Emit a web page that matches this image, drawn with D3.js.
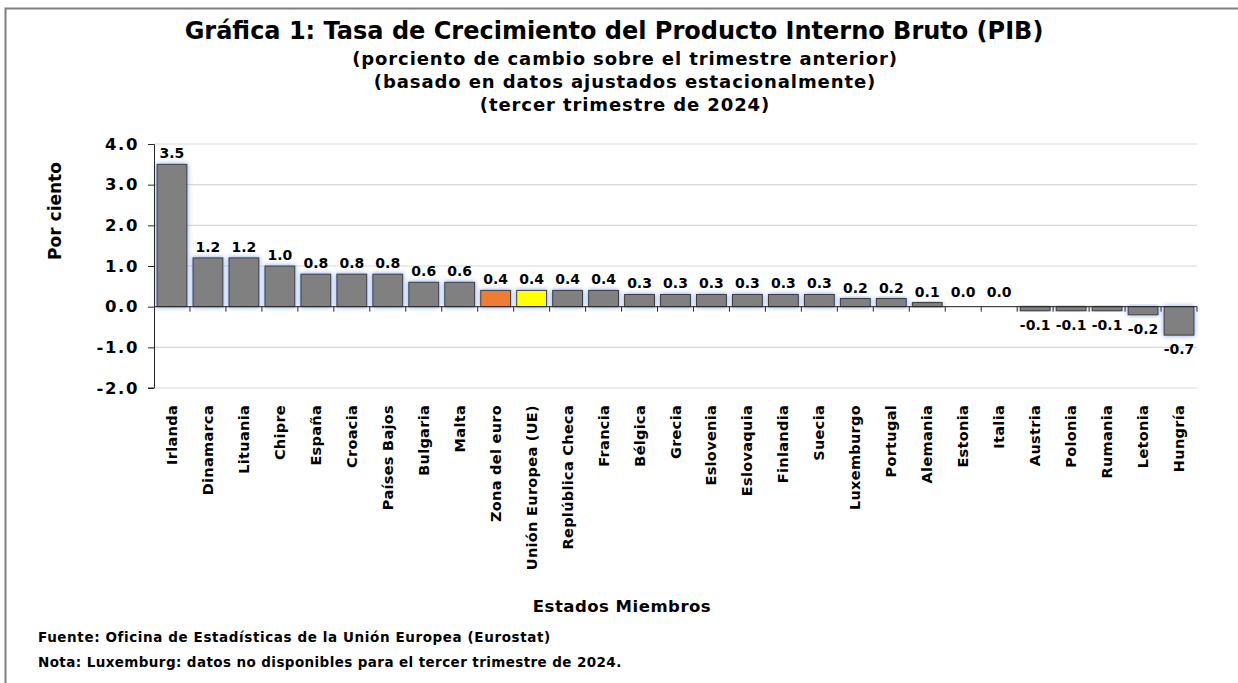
<!DOCTYPE html>
<html>
<head>
<meta charset="utf-8">
<script src="https://cdn.jsdelivr.net/npm/d3@7"></script>
<style>
  body { margin: 0; background: #fff; }
  svg { display: block; font-family: "DejaVu Sans", sans-serif; font-weight: 700; }
</style>
</head>
<body>
<div id="wrapper"></div>
<script>
const countries = ["Irlanda", "Dinamarca", "Lituania", "Chipre", "España", "Croacia", "Países Bajos",
  "Bulgaria", "Malta", "Zona del euro", "Unión Europea (UE)", "Replública Checa", "Francia", "Bélgica",
  "Grecia", "Eslovenia", "Eslovaquia", "Finlandia", "Suecia", "Luxemburgo", "Portugal", "Alemania",
  "Estonia", "Italia", "Austria", "Polonia", "Rumania", "Letonia", "Hungría"]
const growth = [3.5, 1.2, 1.2, 1.0, 0.8, 0.8, 0.8, 0.6, 0.6, 0.4, 0.4, 0.4, 0.4, 0.3, 0.3, 0.3, 0.3,
  0.3, 0.3, 0.2, 0.2, 0.1, 0.0, 0.0, -0.1, -0.1, -0.1, -0.2, -0.7]
const yTicks = [-2, -1, 0, 1, 2, 3, 4]
const titleLines = [
  "(porciento de cambio sobre el trimestre anterior)",
  "(basado en datos ajustados estacionalmente)",
  "(tercer trimestre de 2024)"
]

const data = countries.map((c, i) => ({ country: c, value: growth[i] }))

const dimensions = {
  width: 1238,
  height: 683,
  margin: { top: 144, right: 41, bottom: 295, left: 154 },
}
dimensions.boundedWidth = dimensions.width - dimensions.margin.left - dimensions.margin.right
dimensions.boundedHeight = dimensions.height - dimensions.margin.top - dimensions.margin.bottom

// hyphen for negatives, like the original
const fmt = d3.formatLocale({ decimal: ".", thousands: ",", grouping: [3], currency: ["", ""], minus: "-" })
  .format(".1f")

const svg = d3.select("#wrapper")
  .append("svg")
    .attr("width", dimensions.width)
    .attr("height", dimensions.height)

// glow behind the bars
const defs = svg.append("defs")
const glow = defs.append("filter")
  .attr("id", "glow")
  .attr("x", "-30%").attr("y", "-30%")
  .attr("width", "160%").attr("height", "160%")
glow.append("feDropShadow")
  .attr("dx", 0).attr("dy", 0)
  .attr("stdDeviation", 2.6)
  .attr("flood-color", "#6f9cf0")
  .attr("flood-opacity", 0.9)

// frame (top and left only visible)
svg.append("path")
  .attr("d", "M5.5,683 V8.5 H1238")
  .attr("fill", "none")
  .attr("stroke", "#7f7f7f")
  .attr("stroke-width", 2)

// titles
svg.append("text")
  .attr("x", 614).attr("y", 39)
  .attr("text-anchor", "middle")
  .style("font-size", "24px")
  .text("Gráfica 1: Tasa de Crecimiento del Producto Interno Bruto (PIB)")

svg.selectAll(".subtitle")
  .data(titleLines)
  .join("text")
    .attr("class", "subtitle")
    .attr("x", 625)
    .attr("y", (d, i) => 65 + i * 23)
    .attr("text-anchor", "middle")
    .style("font-size", "18px")
    .style("letter-spacing", "0.9px")
    .text(d => d)

const bounds = svg.append("g")
  .attr("transform", `translate(${dimensions.margin.left},${dimensions.margin.top})`)

const xScale = d3.scaleBand()
  .domain(countries)
  .range([0, dimensions.boundedWidth])
  .paddingInner(0.17)
  .paddingOuter(0.085)

const yScale = d3.scaleLinear()
  .domain([-2, 4])
  .range([dimensions.boundedHeight, 0])

// gridlines
bounds.selectAll(".grid")
  .data(yTicks)
  .join("line")
    .attr("class", "grid")
    .attr("x1", 0)
    .attr("x2", dimensions.boundedWidth)
    .attr("y1", d => yScale(d))
    .attr("y2", d => yScale(d))
    .attr("stroke", "#d9d9d9")
    .attr("stroke-width", 1.2)

// bars
const colorFor = d => d.country === "Zona del euro" ? "#ed7d31"
  : d.country === "Unión Europea (UE)" ? "#ffff00" : "#808080"

bounds.selectAll(".bar")
  .data(data.filter(d => d.value !== 0))
  .join("rect")
    .attr("class", "bar")
    .attr("x", d => xScale(d.country))
    .attr("width", xScale.bandwidth())
    .attr("y", d => yScale(Math.max(0, d.value)))
    .attr("height", d => Math.abs(yScale(d.value) - yScale(0)))
    .attr("fill", colorFor)
    .attr("stroke", "#3a3a3a")
    .attr("stroke-width", 1)
    .attr("filter", "url(#glow)")

// y axis
const yAxisGenerator = d3.axisLeft(yScale)
  .tickValues(yTicks)
  .tickFormat(fmt)
  .tickSize(6)
  .tickPadding(9)

const yAxis = bounds.append("g").call(yAxisGenerator)
yAxis.select(".domain").attr("stroke", "#262626").attr("d", `M-6,0.5H0.5V${dimensions.boundedHeight}H-6`)
yAxis.selectAll(".tick line").attr("stroke", "#262626")
yAxis.selectAll(".tick text")
  .attr("fill", "#000")
  .style("font-size", "16.5px")
  .style("letter-spacing", "1.6px")
  .style("font-family", "\"DejaVu Sans\", sans-serif")
  .style("font-weight", 700)

// zero line with category boundary ticks
const zeroY = yScale(0)
bounds.append("line")
  .attr("x1", 0).attr("x2", dimensions.boundedWidth)
  .attr("y1", zeroY).attr("y2", zeroY)
  .attr("stroke", "#262626")
  .attr("stroke-width", 1)

const step = xScale.step()
const boundaries = d3.range(1, countries.length + 1)
bounds.selectAll(".cat-tick")
  .data(boundaries)
  .join("line")
    .attr("class", "cat-tick")
    .attr("x1", i => xScale(countries[i - 1]) + xScale.bandwidth() + (step - xScale.bandwidth()) / 2)
    .attr("x2", i => xScale(countries[i - 1]) + xScale.bandwidth() + (step - xScale.bandwidth()) / 2)
    .attr("y1", zeroY)
    .attr("y2", zeroY + 5)
    .attr("stroke", "#262626")

// value labels
bounds.selectAll(".value")
  .data(data)
  .join("text")
    .attr("class", "value")
    .attr("x", d => xScale(d.country) + xScale.bandwidth() / 2)
    .attr("y", d => d.value < 0 ? yScale(d.value) + 19 : yScale(d.value) - (d.value === 0 ? 10 : 6))
    .attr("text-anchor", "middle")
    .style("font-size", "14px")
    .text(d => fmt(d.value))

// category labels, rotated
bounds.selectAll(".cat-label")
  .data(countries)
  .join("text")
    .attr("class", "cat-label")
    .attr("transform", d => `translate(${xScale(d) + xScale.bandwidth() / 2 + 5},${dimensions.boundedHeight + 17}) rotate(-90)`)
    .attr("text-anchor", "end")
    .style("font-size", "14.5px")
    .style("letter-spacing", "0.3px")
    .text(d => d)

// axis titles
svg.append("text")
  .attr("transform", "translate(61,211) rotate(-90)")
  .attr("text-anchor", "middle")
  .style("font-size", "17px")
  .text("Por ciento")

svg.append("text")
  .attr("x", 622).attr("y", 612)
  .attr("text-anchor", "middle")
  .style("font-size", "16.5px")
  .style("letter-spacing", "0.5px")
  .text("Estados Miembros")

// notes
svg.append("text")
  .attr("x", 38).attr("y", 642)
  .style("font-size", "13.5px")
  .style("letter-spacing", "0.6px")
  .text("Fuente: Oficina de Estadísticas de la Unión Europea (Eurostat)")

svg.append("text")
  .attr("x", 38).attr("y", 667)
  .style("font-size", "13.5px")
  .style("letter-spacing", "0.4px")
  .text("Nota: Luxemburg: datos no disponibles para el tercer trimestre de 2024.")
</script>
</body>
</html>
